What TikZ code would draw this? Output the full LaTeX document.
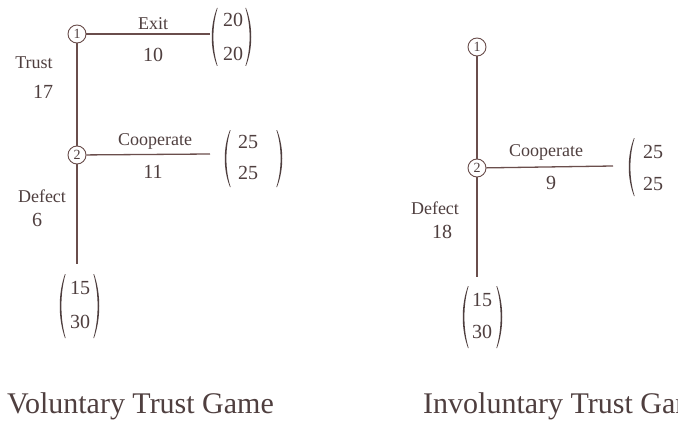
\documentclass[tikz,border=0pt]{standalone}
\usepackage{fontspec}
\setmainfont{Liberation Serif}
\definecolor{ink}{HTML}{4F3F3F}
\definecolor{edge}{HTML}{6A4E4C}
\newcommand\LeftPar[3]{%
  \fill[ink] ({#1+6},#2) .. controls ({#1-1},{#2+0.3*(#3-#2)}) and ({#1-1},{#3-0.3*(#3-#2)}) .. ({#1+6},#3)
   -- ({#1+6.6},#3) .. controls ({#1+1},{#3-0.3*(#3-#2)}) and ({#1+1},{#2+0.3*(#3-#2)}) .. ({#1+6.6},#2) -- cycle;}
\newcommand\RightPar[3]{%
  \fill[ink] ({#1-6},#2) .. controls ({#1+1},{#2+0.3*(#3-#2)}) and ({#1+1},{#3-0.3*(#3-#2)}) .. ({#1-6},#3)
   -- ({#1-6.6},#3) .. controls ({#1-1},{#3-0.3*(#3-#2)}) and ({#1-1},{#2+0.3*(#3-#2)}) .. ({#1-6.6},#2) -- cycle;}
\tikzset{
  player/.style={circle,draw=edge,line width=0.9pt,minimum size=18pt,inner sep=0pt,
    font=\fontsize{14}{14}\selectfont,text=ink,fill=white},
  move/.style={draw=edge,line width=1.3pt},
  lab/.style={font=\fontsize{18}{18}\selectfont,text=ink,inner sep=0pt},
  num/.style={font=\fontsize{20}{20}\selectfont,text=ink,inner sep=0pt},
  title/.style={font=\fontsize{30}{30}\selectfont,text=ink,inner sep=0pt,anchor=base west},
}
\begin{document}
\begin{tikzpicture}[x=1pt,y=-1pt]
\useasboundingbox (0,0) rectangle (678,428);
\clip (0,0) rectangle (678,428);
\fill[white] (0,0) rectangle (678,428);
% ---------------- Voluntary Trust Game ----------------
\coordinate (ve) at (210,34);
\coordinate (vc) at (210,154);
\coordinate (vd) at (77,264);
\draw[move] (77,34) -- (77,155);
\draw[move] (77,155) -- (vd);
\node[player] (v1) at (77,34) {1};
\node[player] (v2) at (77,155) {2};
\draw[move] (v1) -- (ve);
\draw[move] (v2) -- (vc);
\node[lab] (vexit) at (153,24) {Exit};
\node[num] (vexitn) at (153,55) {10};
\node[lab] (vtrust) at (34,63) {Trust};
\node[num] (vtrustn) at (43,92) {17};
\node[lab] (vcoop) at (155,141) {Cooperate};
\node[num] (vcoopn) at (153,172) {11};
\node[lab] (vdef) at (42,196) {Defect};
\node[num] (vdefn) at (37,220) {6};
\node[num] (p1a) at (233,20) {20};
\node[num] (p1b) at (233,54) {20};
\LeftPar{211}{8}{66}
\RightPar{252}{8}{66}
\node[num] (p2a) at (248,142) {25};
\node[num] (p2b) at (248,173) {25};
\LeftPar{224}{130}{187}
\RightPar{283}{130}{187}
\node[num] (p3a) at (80,288) {15};
\node[num] (p3b) at (80,322) {30};
\LeftPar{59}{274}{338}
\RightPar{100}{274}{338}
\node[title] (vt) at (7,413) {Voluntary Trust Game};
% ---------------- Involuntary Trust Game ----------------
\coordinate (ic) at (613,166);
\coordinate (id) at (477,277);
\draw[move] (477,47) -- (477,168);
\draw[move] (477,168) -- (id);
\node[player] (i1) at (477,47) {1};
\node[player] (i2) at (477,168) {2};
\draw[move] (i2) -- (ic);
\node[lab] (icoop) at (546,152) {Cooperate};
\node[num] (icoopn) at (551,183) {9};
\node[lab] (idef) at (435,208) {Defect};
\node[num] (idefn) at (442,232) {18};
\node[num] (p4a) at (653,152) {25};
\node[num] (p4b) at (653,184) {25};
\LeftPar{628}{138}{196}
\RightPar{687}{138}{196}
\node[num] (p5a) at (482,300) {15};
\node[num] (p5b) at (482,332) {30};
\LeftPar{462}{286}{348}
\RightPar{503}{286}{348}
\node[title] (it) at (423,413) {Involuntary Trust Game};
\end{tikzpicture}
\end{document}
